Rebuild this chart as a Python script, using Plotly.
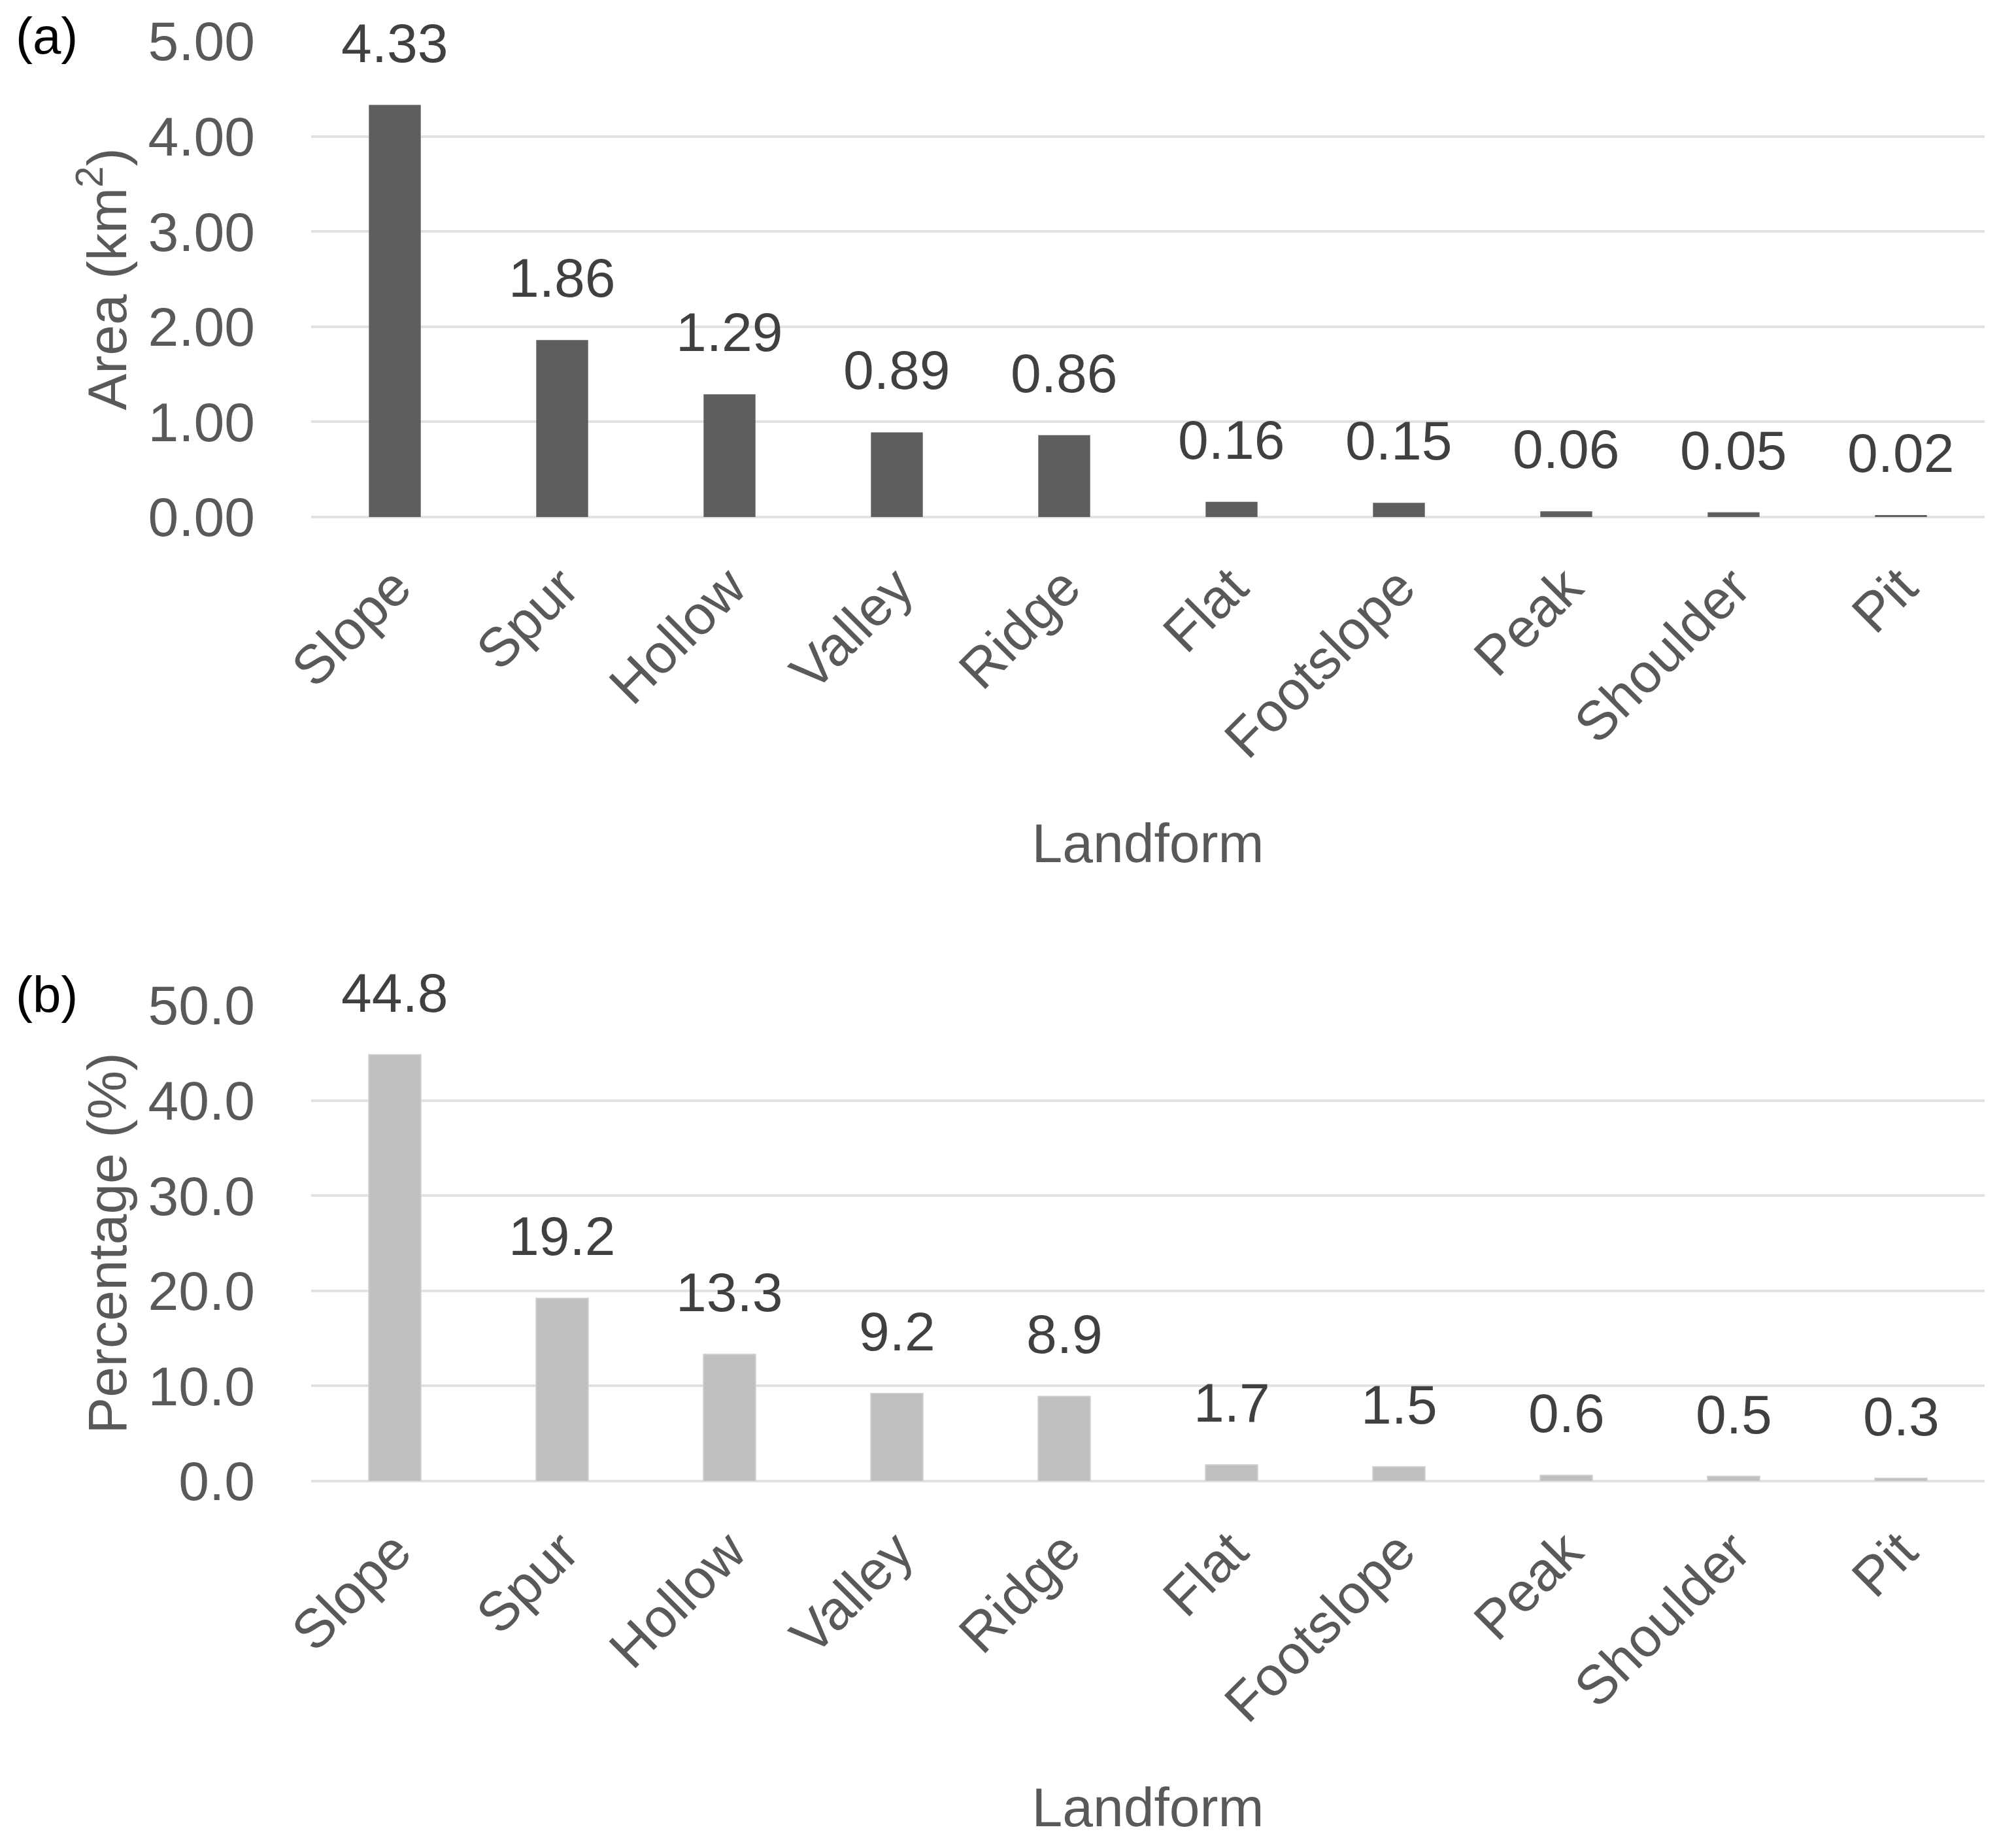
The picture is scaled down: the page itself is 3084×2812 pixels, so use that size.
import plotly.graph_objects as go
from plotly.subplots import make_subplots

landforms = ["Slope", "Spur", "Hollow", "Valley", "Ridge", "Flat",
             "Footslope", "Peak", "Shoulder", "Pit"]
area_km2 = [4.33, 1.86, 1.29, 0.89, 0.86, 0.16, 0.15, 0.06, 0.05, 0.02]
percentage = [44.8, 19.2, 13.3, 9.2, 8.9, 1.7, 1.5, 0.6, 0.5, 0.3]

# page body has an 8px margin, so the figure is a bit smaller than the window
W, H = 3076, 2804
L, R = 468, 48
FONT = "Liberation Sans, Arial, sans-serif"
GREY = "#595959"
FS = 84

fig = make_subplots(rows=2, cols=1, vertical_spacing=0.1)

fig.add_trace(go.Bar(x=landforms, y=area_km2, marker_color="#5e5e5e",
                     marker_line_width=0), row=1, col=1)
fig.add_trace(go.Bar(x=landforms, y=percentage, marker_color="#bfbfbf",
                     marker_line_color="#cccccc", marker_line_width=2), row=2, col=1)

# value labels sit a fixed distance above each bar
for x, v in zip(landforms, area_km2):
    fig.add_annotation(x=x, y=v, text=f"{v:.2f}", showarrow=False, yshift=95,
                       xref="x", yref="y", font=dict(size=FS, color="#404040"))
for x, v in zip(landforms, percentage):
    fig.add_annotation(x=x, y=v, text=f"{v:.1f}", showarrow=False, yshift=95,
                       xref="x2", yref="y2", font=dict(size=FS, color="#404040"))

# panel letters, given in pixels then turned into paper coords
for label, px, py in [("(a)", 14, 47), ("(b)", 14, 1514)]:
    fig.add_annotation(text=label, x=(px - L) / (W - L - R), y=1 - py / H,
                       xref="paper", yref="paper", xanchor="left", yanchor="middle",
                       showarrow=False, font=dict(size=78, color="black"))

fig.update_xaxes(tickangle=-45, tickfont=dict(size=FS, color=GREY),
                 showgrid=False, showline=False, ticks="", ticklabelstandoff=40,
                 automargin=False, domain=[0, 1],
                 title=dict(text="Landform", font=dict(size=FS, color=GREY), standoff=83))

fig.update_yaxes(tickfont=dict(size=FS, color=GREY), showline=False, ticks="",
                 gridcolor="#e2e2e2", gridwidth=4, zeroline=True,
                 zerolinecolor="#e2e2e2", zerolinewidth=4, ticklabelstandoff=85,
                 automargin=False)
fig.update_yaxes(range=[0, 5], dtick=1, tickformat=".2f",
                 domain=[1 - 783 / H, 1 - 55 / H],
                 title=dict(text="Area (km<sup>2</sup>)", font=dict(size=FS, color=GREY),
                            standoff=5), row=1, col=1)
fig.update_yaxes(range=[0, 50], dtick=10, tickformat=".1f",
                 domain=[1 - 2258 / H, 1 - 1530 / H],
                 title=dict(text="Percentage (%)", font=dict(size=FS, color=GREY),
                            standoff=5), row=2, col=1)

fig.update_layout(
    width=W, height=H,
    margin=dict(l=L, r=R, t=0, b=0, autoexpand=False),
    bargap=0.69,
    showlegend=False,
    plot_bgcolor="white", paper_bgcolor="white",
    font=dict(family=FONT, color=GREY),
)

fig.write_html("out.html")
